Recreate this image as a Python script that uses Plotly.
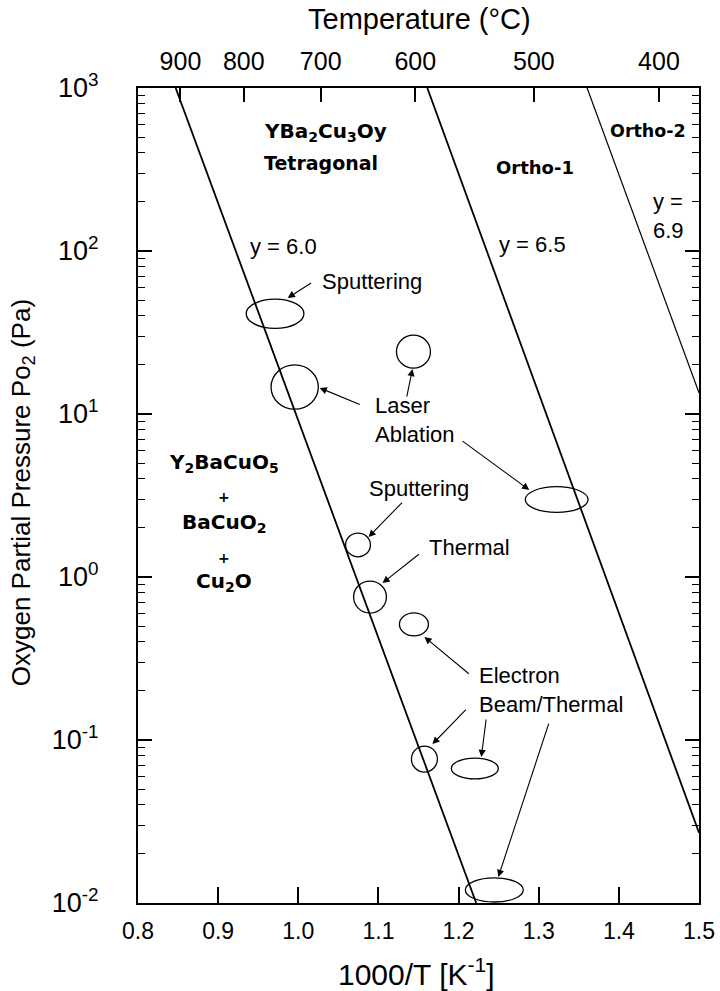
import numpy as np
import plotly.graph_objects as go

# ---------------- data ----------------
# phase-boundary lines: 1000/T and oxygen pressure (Pa) at their ends
line_names = ["y = 6.0", "y = 6.5", "y = 6.9"]
line_x = [[0.847, 1.222], [1.161, 1.5], [1.3604, 1.5]]
line_p = [[1000.0, 0.01], [1000.0, 0.027], [1000.0, 13.5]]
line_w = [1.8, 1.8, 1.2]

# deposition windows (ellipses): 1000/T range and pressure range (Pa)
win_labels = ["Sputtering", "Laser Ablation", "Laser Ablation", "Laser Ablation",
              "Sputtering", "Thermal", "Electron Beam/Thermal",
              "Electron Beam/Thermal", "Electron Beam/Thermal", "Electron Beam/Thermal"]
win_x_lo = [0.935, 0.966, 1.1225, 1.2832, 1.059, 1.069, 1.1262, 1.1412, 1.191, 1.2085]
win_x_hi = [1.007, 1.025, 1.1649, 1.3616, 1.090, 1.110, 1.1624, 1.1736, 1.2496, 1.2807]
win_p_lo = [33.5, 10.7, 19.1, 2.49, 1.33, 0.601, 0.435, 0.0635, 0.0577, 0.01014]
win_p_hi = [50.7, 20.0, 30.5, 3.58, 1.86, 0.944, 0.603, 0.0918, 0.0775, 0.01426]

# axis ticks
x_ticks = [0.8, 0.9, 1.0, 1.1, 1.2, 1.3, 1.4, 1.5]
x_ticklabels = ["0.8", "0.9", "1.0", "1.1", "1.2", "1.3", "1.4", "1.5"]
temp_labels = ["900", "800", "700", "600", "500", "400"]
temp_tick_x = [0.853, 0.932, 1.028, 1.146, 1.294, 1.45]
y_exponents = [-2, -1, 0, 1, 2, 3]

# ---------------- figure ----------------
FONT = "Liberation Sans, Arial, sans-serif"
BOLDF = "DejaVu Sans, sans-serif"
fig = go.Figure()

for name, xs, ps, w in zip(line_names, line_x, line_p, line_w):
    fig.add_trace(go.Scatter(x=xs, y=ps, mode="lines", name=name,
                             line=dict(color="black", width=w),
                             showlegend=False, hoverinfo="skip"))

# invisible trace on top axis so it renders
fig.add_trace(go.Scatter(x=[0.8, 1.5], y=[1, 1], xaxis="x2", mode="markers",
                         marker=dict(opacity=0), showlegend=False, hoverinfo="skip"))

shapes = []
for x0, x1, p0, p1 in zip(win_x_lo, win_x_hi, win_p_lo, win_p_hi):
    shapes.append(dict(type="circle", xref="x", yref="y",
                       x0=x0, x1=x1, y0=p0, y1=p1,
                       line=dict(color="black", width=1.3),
                       fillcolor="rgba(0,0,0,0)"))

ann = []
def txt(x, L, s, size=22, xanchor="left", align="left"):
    ann.append(dict(x=x, y=L, xref="x", yref="y", text=s,
                    showarrow=False, xanchor=xanchor, yanchor="middle", align=align,
                    font=dict(family=FONT, size=size, color="black")))

def btxt(x, L, s, size=19, xanchor="left"):
    ann.append(dict(x=x, y=L, xref="x", yref="y", text="<b>%s</b>" % s,
                    showarrow=False, xanchor=xanchor, yanchor="middle",
                    font=dict(family=BOLDF, size=size, color="black")))

def arrow(tx, tL, hx, hL):
    ann.append(dict(x=hx, y=hL, ax=tx, ay=tL, xref="x", yref="y", axref="x", ayref="y",
                    text="", showarrow=True, arrowhead=2, arrowsize=1.3,
                    arrowwidth=1.1, arrowcolor="black"))

btxt(0.9544, 2.730, "YBa<sub>2</sub>Cu<sub>3</sub>Oy", size=20)
btxt(0.9544, 2.540, "Tetragonal", size=19)
btxt(1.2956, 2.515, "Ortho-1", size=18, xanchor="center")
btxt(1.4364, 2.736, "Ortho-2", size=17.5, xanchor="center")
btxt(0.9071, 0.699, "Y<sub>2</sub>BaCuO<sub>5</sub>", size=20, xanchor="center")
btxt(0.9071, 0.491, "+", size=14, xanchor="center")
btxt(0.9071, 0.331, "BaCuO<sub>2</sub>", size=20, xanchor="center")
btxt(0.9071, 0.117, "+", size=14, xanchor="center")
btxt(0.9071, -0.031, "Cu<sub>2</sub>O", size=20, xanchor="center")

txt(0.937, 2.025, "y = 6.0")
txt(1.2483, 2.037, "y = 6.5")
txt(1.440, 2.212, "y =<br>6.9")
txt(1.0267, 1.810, "Sputtering")
txt(1.0927, 0.963, "Laser<br>Ablation")
txt(1.0852, 0.546, "Sputtering")
txt(1.1611, 0.184, "Thermal")
txt(1.2234, -0.693, "Electron<br>Beam/Thermal")

arrow(1.0179, 1.810, 0.9868, 1.712)
arrow(1.0786, 1.055, 1.0267, 1.160)
arrow(1.1350, 1.098, 1.1425, 1.276)
arrow(1.2031, 0.840, 1.2882, 0.534)
arrow(1.1313, 0.466, 1.0877, 0.245)
arrow(1.1524, 0.147, 1.1051, -0.037)
arrow(1.2147, -0.601, 1.1574, -0.368)
arrow(1.2110, -0.804, 1.1674, -1.025)
arrow(1.2346, -0.865, 1.2284, -1.104)
arrow(1.3131, -0.890, 1.2496, -1.840)

# axis titles
ann.append(dict(x=0.501, y=1.0847, xref="paper", yref="paper", text="Temperature (°C)",
                showarrow=False, xanchor="center", yanchor="middle",
                font=dict(family=FONT, size=29, color="black")))
ann.append(dict(x=0.497, y=-0.0847, xref="paper", yref="paper", text="1000/T [K<sup>-1</sup>]",
                showarrow=False, xanchor="center", yanchor="middle",
                font=dict(family=FONT, size=30, color="black")))
ann.append(dict(x=-0.2068, y=0.504, xref="paper", yref="paper",
                text="Oxygen Partial Pressure Po<sub>2</sub> (Pa)", textangle=-90,
                showarrow=False, xanchor="center", yanchor="middle",
                font=dict(family=FONT, size=26, color="black")))

y_tickvals = [10.0 ** e for e in y_exponents]
y_ticktext = ["10<sup>%d</sup>" % e for e in y_exponents]
minor_vals = [k * 10.0 ** e for e in y_exponents[:-1] for k in range(2, 10)]

fig.update_layout(
    width=720, height=991,
    margin=dict(l=138, r=21, t=88, b=88, autoexpand=False),
    paper_bgcolor="white", plot_bgcolor="white",
    shapes=shapes, annotations=ann,
    xaxis=dict(range=[0.8, 1.5], tickvals=x_ticks, ticktext=x_ticklabels,
               ticks="inside", ticklen=16, tickwidth=1.5, tickcolor="black",
               ticklabelstandoff=6, automargin=False,
               showline=True, linewidth=2, linecolor="black", mirror=True,
               showgrid=False, zeroline=False,
               tickfont=dict(family=FONT, size=23, color="black")),
    xaxis2=dict(range=[0.8, 1.5], overlaying="x", side="top",
                tickvals=temp_tick_x, ticktext=temp_labels,
                ticks="inside", ticklen=14, tickwidth=1.5, tickcolor="black",
                ticklabelstandoff=12, automargin=False,
                showgrid=False, zeroline=False, showline=False,
                tickfont=dict(family=FONT, size=25, color="black")),
    yaxis=dict(type="log", range=[-2, 3], tickvals=y_tickvals, ticktext=y_ticktext,
               ticks="inside", ticklen=14, tickwidth=1.5, tickcolor="black",
               ticklabelstandoff=32, automargin=False,
               showline=True, linewidth=2, linecolor="black", mirror="ticks",
               showgrid=False, zeroline=False,
               minor=dict(tickvals=minor_vals, ticks="inside", ticklen=7,
                          tickwidth=1.2, tickcolor="black", showgrid=False),
               tickfont=dict(family=FONT, size=27, color="black")),
)

fig.write_html("out.html", config={"displayModeBar": False},
               post_script="document.body.style.margin='0px';")
